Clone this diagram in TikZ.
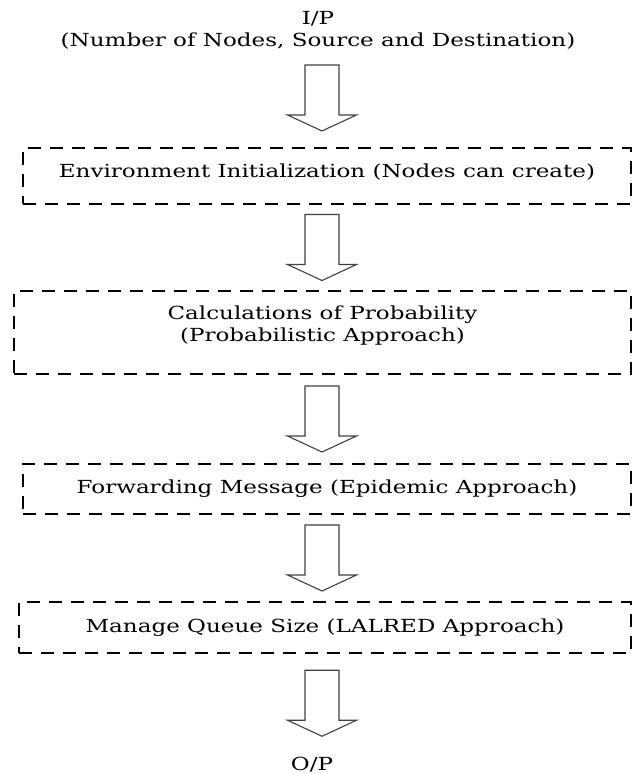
\documentclass[tikz,border=0pt]{standalone}
\usepackage{fontspec}
\setmainfont{DejaVu Serif}[FakeStretch=1.28]
\usetikzlibrary{calc}

% hollow block arrow half way between two nodes, on the common axis
\newcommand{\bigdown}[2]{%
  \coordinate (mid) at ($(#1.south)!0.5!(#2.north)$);
  \coordinate (c) at (mid -| axis);
  \draw[flow] (c) ++(-17,-33) -- ++(34,0) -- ++(0,50) -- ++(17.5,0)
    -- ++(-34.5,16) -- ++(-34.5,-16) -- ++(17.5,0) -- cycle;
}

\begin{document}
\begin{tikzpicture}[x=1pt, y=-1pt,
  every node/.style={font=\fontsize{18}{22}\selectfont, inner sep=0pt},
  stage/.style={draw, line width=2.4pt, dash pattern=on 13pt off 9pt, align=center},
  flow/.style={draw=black!75, line width=1.1pt, fill=white, line join=miter}]
  \useasboundingbox (0,0) rectangle (633,774);
  \coordinate (axis) at (322,0);

  \node[align=center] (ip) at (318,30) {I/P\\(Number of Nodes, Source and Destination)};
  \node[stage, minimum width=608pt, minimum height=56pt, text depth=11pt] (env) at (327,176)
    {Environment Initialization (Nodes can create)};
  \node[stage, minimum width=617pt, minimum height=83pt, text depth=17pt] (calc) at (322.5,332.5)
    {Calculations of Probability\\(Probabilistic Approach)};
  \node[stage, minimum width=608pt, minimum height=50pt] (fwd) at (327,489)
    {Forwarding Message (Epidemic Approach)};
  \node[stage, minimum width=612pt, minimum height=51pt] (queue) at (325,627.5)
    {Manage Queue Size (LALRED Approach)};
  \node[inner sep=5pt] (op) at (312,765) {O/P};

  \bigdown{ip}{env}
  \bigdown{env}{calc}
  \bigdown{calc}{fwd}
  \bigdown{fwd}{queue}
  \bigdown{queue}{op}
\end{tikzpicture}
\end{document}
